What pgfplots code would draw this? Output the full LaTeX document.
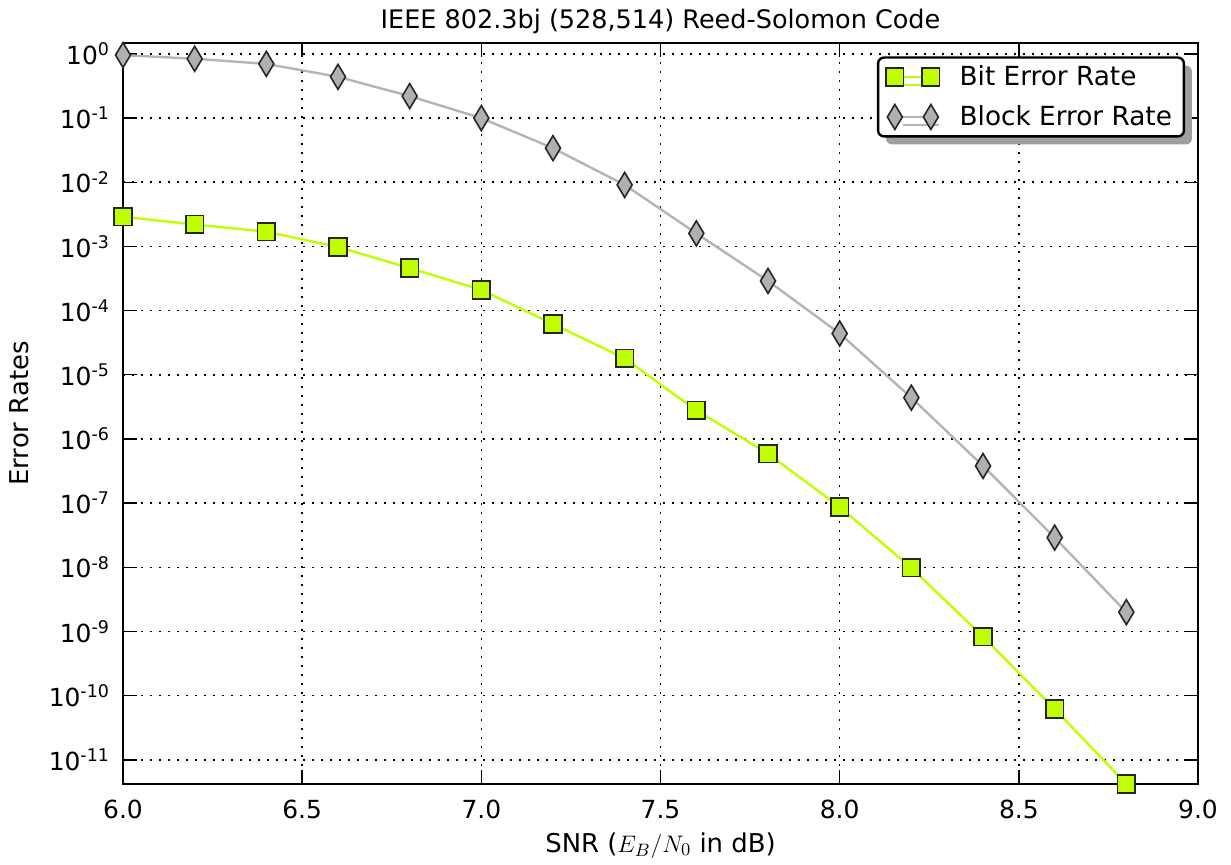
\documentclass[border=0pt]{standalone}
\usepackage{fontspec}
\setmainfont{DejaVu Sans}
\usepackage{pgfplots}
\pgfplotsset{compat=1.18}
\usetikzlibrary{shadows}
\definecolor{limeber}{RGB}{191,255,0}
\definecolor{grayfill}{RGB}{176,176,176}
\definecolor{grayline}{RGB}{180,180,180}

\pgfplotstableread{
snr   ber
6.0   2.9e-3
6.2   2.2e-3
6.4   1.7e-3
6.6   9.8e-4
6.8   4.6e-4
7.0   2.1e-4
7.2   6.2e-5
7.4   1.8e-5
7.6   2.8e-6
7.8   5.9e-7
8.0   8.7e-8
8.2   9.8e-9
8.4   8.3e-10
8.6   6.2e-11
8.8   4.2e-12
}\bertable

\pgfplotstableread{
snr   bler
6.0   0.96
6.2   0.84
6.4   0.70
6.6   0.44
6.8   0.22
7.0   0.10
7.2   3.4e-2
7.4   9.1e-3
7.6   1.6e-3
7.8   2.9e-4
8.0   4.4e-5
8.2   4.4e-6
8.4   3.8e-7
8.6   2.9e-8
8.8   2.0e-9
}\blertable

\begin{document}
\begin{tikzpicture}
\begin{axis}[
  name=ax,
  scale only axis,
  width=537.5bp, height=370.5bp,
  ymode=log,
  xmin=6, xmax=9,
  ymin=4.2e-12, ymax=1.48,
  xtick={6,6.5,...,9},
  ytick={1,1e-1,1e-2,1e-3,1e-4,1e-5,1e-6,1e-7,1e-8,1e-9,1e-10,1e-11},
  yticklabels={10\textsuperscript{0},10\textsuperscript{-1},10\textsuperscript{-2},10\textsuperscript{-3},10\textsuperscript{-4},10\textsuperscript{-5},10\textsuperscript{-6},10\textsuperscript{-7},10\textsuperscript{-8},10\textsuperscript{-9},10\textsuperscript{-10},10\textsuperscript{-11}},
  yminorticks=false,
  /pgf/number format/assume math mode=true,
  x tick label style={/pgf/number format/.cd,fixed,fixed zerofill,precision=1,/tikz/.cd},
  tick label style={font=\fontsize{12.5}{14}\selectfont},
  yticklabel style={xshift=-3bp},
  xticklabel style={yshift=-4.5bp},
  tick align=inside, tick pos=both,
  major tick length=7bp,
  tick style={black, line width=0.7bp},
  axis line style={line width=1.3bp},
  grid=major,
  grid style={black, line width=0.8bp, dash pattern=on 1.2bp off 3.3bp},
  title={IEEE 802.3bj (528,514) Reed-Solomon Code},
  title style={font=\fontsize{12.8}{15}\selectfont, yshift=-5bp},
  xlabel={SNR ($E_B/N_0$ in dB)},
  ylabel={Error Rates},
  label style={font=\fontsize{13}{15}\selectfont},
  xlabel style={yshift=0bp},
  ylabel style={yshift=3bp},
  legend cell align=left,
  legend style={at={(0.988,0.982)}, anchor=north east,
    draw=black, line width=1.2bp, rounded corners=3bp, fill=white,
    drop shadow={fill=gray!75, shadow xshift=4bp, shadow yshift=-4bp, opacity=1},
    font=\fontsize{13.2}{15.5}\selectfont,
    row sep=4.5bp, inner xsep=4bp, inner ysep=2bp,
    /tikz/every odd column/.append style={column sep=8bp}},
  legend image code/.code={%
    \draw[mark repeat=1, mark phase=1, #1] plot coordinates {(0bp,0bp) (18bp,0bp)};},
]
\addplot[limeber, line width=1.2bp, mark=square*,
  mark size=4.4bp, mark options={fill=limeber, draw=black!85, line width=0.8bp}]
  table[x=snr, y=ber] {\bertable};
\addlegendentry{Bit Error Rate}
\addplot[grayline, line width=1.2bp, mark=diamond*,
  mark size=6.25bp, mark options={fill=grayfill, draw=black!85, line width=0.8bp, xscale=0.8}]
  table[x=snr, y=bler] {\blertable};
\addlegendentry{Block Error Rate}
\end{axis}
\path ([xshift=-61.5bp, yshift=-38.5bp]ax.south west);
\path ([xshift=16.5bp, yshift=21.5bp]ax.north east);
\end{tikzpicture}
\end{document}
